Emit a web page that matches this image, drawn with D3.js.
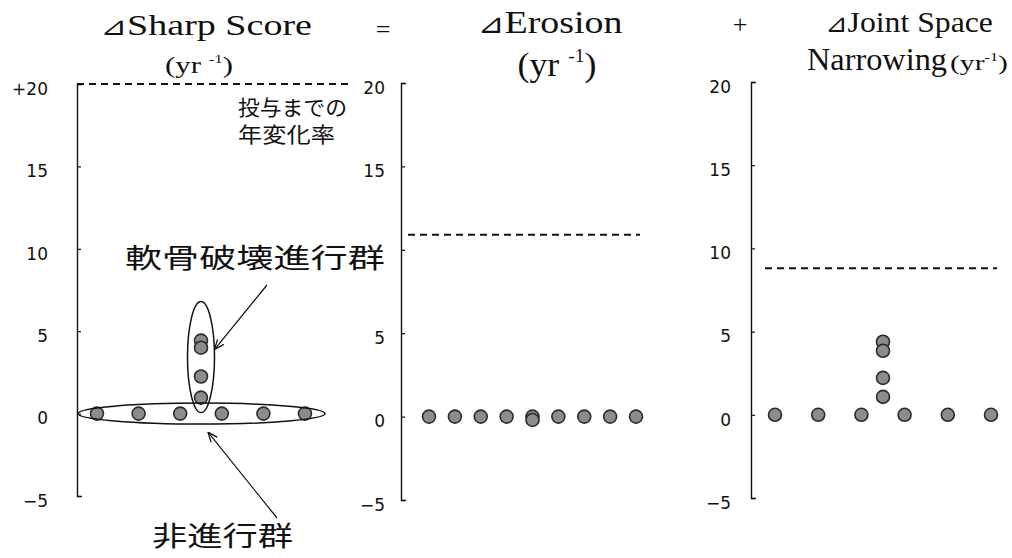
<!DOCTYPE html>
<html>
<head>
<meta charset="utf-8">
<script src="https://cdn.jsdelivr.net/npm/d3@7"></script>
<style>
  html, body { margin: 0; padding: 0; background: #fff; }
  .tick text { font-family: "DejaVu Sans", sans-serif; font-size: 17px; fill: #111; }
</style>
</head>
<body>
<div id="chart"></div>
<script>
// values (rate of change per year)
const tickValues = [-5, 0, 5, 10, 15, 20];

// slot = horizontal position of each patient inside a panel
const sharpSlot = [0, 1, 2, 3, 4, 5, 2.5, 2.5, 2.5, 2.5];
const sharpRate = [0, 0, 0, 0, 0, 0, 4.43, 4.0, 2.25, 0.97];

const erosionSlot = [0, 1, 2, 3, 4, 4, 5, 6, 7, 8];
const erosionRate = [0, 0, 0, 0, 0, -0.2, 0, 0, 0, 0];

const jsnSlot = [0, 1, 2, 3, 4, 5, 2.5, 2.5, 2.5, 2.5];
const jsnRate = [0, 0, 0, 0, 0, 0, 4.39, 3.85, 2.22, 1.08];

// dashed line: yearly rate before treatment
const preRate = [20, 10.9, 8.8];

const SERIF = '"Liberation Serif", "Times New Roman", serif';
const JP = '"Noto Sans CJK JP", sans-serif';

const svgWidth = 1012;
const svgHeight = 558;

const svg = d3.select('#chart')
  .append('svg')
  .attr('width', svgWidth)
  .attr('height', svgHeight);

svg.append('defs').append('marker')
  .attr('id', 'arrow')
  .attr('viewBox', '0 0 10 10')
  .attr('refX', 10)
  .attr('refY', 5)
  .attr('markerWidth', 10)
  .attr('markerHeight', 10)
  .attr('markerUnits', 'userSpaceOnUse')
  .attr('orient', 'auto')
  .append('path')
  .attr('d', 'M0,1 L10,5 L0,9')
  .attr('fill', 'none')
  .attr('stroke', '#111')
  .attr('stroke-width', 1.3);

// panel layout (pixels); hide = tick label covered by the note in the figure
const panels = [
  { slot: sharpSlot, rate: sharpRate, axisX: 77, yRange: [496, 84], xRange: [97, 305], slots: 5, pad: 29, refX: [77, 353], hide: null },
  { slot: erosionSlot, rate: erosionRate, axisX: 401, yRange: [500, 83], xRange: [429, 636], slots: 8, pad: 16, refX: [408, 640], hide: 10 },
  { slot: jsnSlot, rate: jsnRate, axisX: 751, yRange: [498, 82], xRange: [775, 991], slots: 5, pad: 20, refX: [765, 997], hide: null }
];

panels.forEach((p, i) => {
  p.y = d3.scaleLinear().domain([-5, 20]).range(p.yRange);
  p.x = d3.scaleLinear().domain([0, p.slots]).range(p.xRange);

  // y axis, ticks pointing inward
  const axis = svg.append('g')
    .attr('transform', `translate(${p.axisX},0)`)
    .call(d3.axisLeft(p.y)
      .tickValues(tickValues)
      .tickSizeInner(-4)
      .tickSizeOuter(-5)
      .tickPadding(p.pad)
      .tickFormat(d => {
        if (d === p.hide) return '';
        return (i === 0 && d === 20) ? '+20' : d3.format('')(d);
      }));
  axis.select('.domain').attr('stroke', '#111').attr('stroke-width', 1.4);
  axis.selectAll('.tick line').attr('stroke', '#111').attr('stroke-width', 1.2);
  axis.selectAll('.tick text').attr('dy', '0.6em');

  // pre-treatment rate
  svg.append('line')
    .attr('x1', p.refX[0])
    .attr('x2', p.refX[1])
    .attr('y1', p.y(preRate[i]))
    .attr('y2', p.y(preRate[i]))
    .attr('stroke', '#111')
    .attr('stroke-width', 2)
    .attr('stroke-dasharray', '7,5');

  // patients
  svg.append('g').selectAll('circle')
    .data(p.rate)
    .enter()
    .append('circle')
    .attr('cx', (d, j) => p.x(p.slot[j]))
    .attr('cy', d => p.y(d))
    .attr('r', 6.5)
    .attr('fill', '#8c8c8c')
    .attr('stroke', '#2a2a2a')
    .attr('stroke-width', 1.6);
});

// group rings in the first panel
const s = panels[0];
const rowIdx = d3.range(6);
const colIdx = d3.range(6, 10);
const colRates = colIdx.map(j => sharpRate[j]);

const hx0 = s.x(d3.min(rowIdx, j => sharpSlot[j])) - 19;
const hx1 = s.x(d3.max(rowIdx, j => sharpSlot[j])) + 20;
const hRing = { cx: (hx0 + hx1) / 2, cy: s.y(0), rx: (hx1 - hx0) / 2, ry: 10.5 };

const vy0 = s.y(d3.max(colRates)) - 39;
const vy1 = s.y(d3.min(colRates)) + 15;
const vRing = { cx: s.x(sharpSlot[6]), cy: (vy0 + vy1) / 2, rx: 13.5, ry: (vy1 - vy0) / 2 };

[hRing, vRing].forEach(e => {
  svg.append('ellipse')
    .attr('cx', e.cx)
    .attr('cy', e.cy)
    .attr('rx', e.rx)
    .attr('ry', e.ry)
    .attr('fill', 'none')
    .attr('stroke', '#111')
    .attr('stroke-width', 1.5);
});

// arrows to the rings
const tipY = vRing.cy - 7.5;
const tipX = vRing.cx + vRing.rx * Math.sqrt(1 - Math.pow((tipY - vRing.cy) / vRing.ry, 2));
svg.append('line')
  .attr('x1', 267).attr('y1', 285)
  .attr('x2', tipX).attr('y2', tipY)
  .attr('stroke', '#111').attr('stroke-width', 1.2)
  .attr('marker-end', 'url(#arrow)');

svg.append('line')
  .attr('x1', 277).attr('y1', 518)
  .attr('x2', 208).attr('y2', hRing.cy + hRing.ry + 8)
  .attr('stroke', '#111').attr('stroke-width', 1.2)
  .attr('marker-end', 'url(#arrow)');

// stretch an element horizontally to the width seen in the figure
function fit(el, x, y, width, anchor) {
  const bb = el.node().getBBox();
  const k = width ? width / bb.width : 1;
  const frac = { start: 0, middle: 0.5, end: 1 }[anchor];
  el.attr('transform', `translate(${x},${y}) scale(${k},1) translate(${-bb.x - frac * bb.width},0)`);
  return el;
}

function label(txt, size, family) {
  return svg.append('text')
    .attr('font-family', family)
    .attr('font-size', size)
    .attr('fill', '#111')
    .text(txt);
}

// delta sign and serif word drawn as two separate texts
function deltaTitle(txt, size, cx, y, width) {
  const tri = label('⊿', size * 0.85, '"DejaVu Sans", sans-serif');
  const word = label(txt, size, SERIF);
  const tw = tri.node().getBBox().width;
  const ww = word.node().getBBox().width;
  const k = width / (tw + ww);
  const left = cx - width / 2;
  fit(tri, left, y, tw * k, 'start');
  fit(word, left + tw * k, y, ww * k, 'start');
}

function perYear(size, gap) {
  const t = svg.append('text')
    .attr('font-family', SERIF)
    .attr('font-size', size)
    .attr('fill', '#111');
  t.append('tspan').text('(yr' + gap);
  t.append('tspan').attr('dy', -size * 0.4).attr('font-size', size * 0.55).text('-1');
  t.append('tspan').attr('dy', size * 0.4).text(')');
  return t;
}

// titles
deltaTitle('Sharp Score', 30, 206, 35, 212);
fit(perYear(24, ' '), 199, 73, 68, 'middle');
fit(label('=', 26, SERIF), 383, 38, 0, 'middle');

deltaTitle('Erosion', 32, 550, 33, 145);
fit(perYear(34, ' '), 557, 76, 79, 'middle');
fit(label('+', 26, SERIF), 740, 33, 0, 'middle');

deltaTitle('Joint Space', 30, 909, 32, 168);
fit(label('Narrowing', 31, SERIF), 807, 70, 140, 'start');
fit(perYear(22, ''), 1008, 70, 58, 'end');

// Japanese notes
fit(label('投与までの', 21, JP), 238, 115, 109, 'start');
fit(label('年変化率', 21, JP), 238, 142, 97, 'start');
fit(label('軟骨破壊進行群', 27, JP), 125, 268, 260, 'start');
fit(label('非進行群', 27, JP), 152, 546, 141, 'start');
</script>
</body>
</html>
